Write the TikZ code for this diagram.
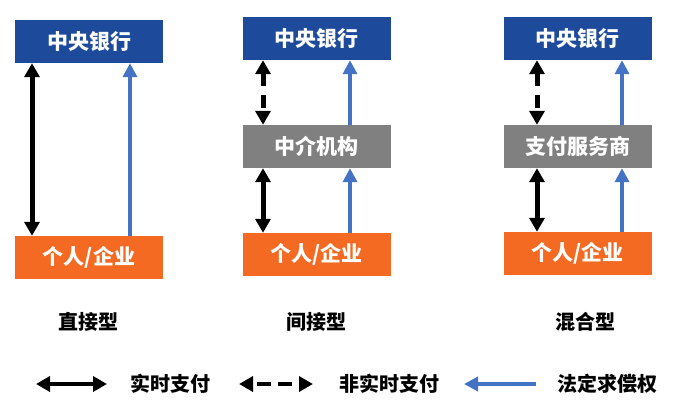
\documentclass[tikz,border=0pt]{standalone}
\usepackage{fontspec}
\newfontfamily\cjk{Noto Sans CJK SC}
\usepackage{xcolor}
\usetikzlibrary{arrows.meta,positioning}
\definecolor{bankblue}{RGB}{30,74,155}
\definecolor{midgray}{RGB}{128,128,128}
\definecolor{userorange}{RGB}{245,106,34}
\definecolor{claimblue}{RGB}{68,114,196}

\begin{document}
\begin{tikzpicture}[x=1pt,y=-1pt,
  box/.style={minimum width=148pt,minimum height=43pt,inner sep=0pt,text=white,
    font=\cjk\bfseries\fontsize{21}{21}\selectfont},
  tag/.style={font=\cjk\bfseries\fontsize{20}{20}\selectfont},
  realpay/.style={line width=5pt,{Triangle[length=14pt,width=15pt]}-{Triangle[length=14pt,width=15pt]}},
  nonrealpay/.style={realpay,dash pattern=on 13pt off 9pt},
  claim/.style={line width=4pt,claimblue,-{Triangle[length=14pt,width=14pt]}}]
\useasboundingbox (0,0) rectangle (683,408);
% direct
\node[box,fill=bankblue] (bankA) at (89,41.5) {中央银行};
\node[box,fill=userorange] (userA) at (89,257.5) {个人/企业};
\node[tag] (typeA) at (88,322) {直接型};
% indirect
\node[box,fill=bankblue] (bankB) at (316.5,38.5) {中央银行};
\node[box,fill=midgray] (midB) at (316.5,146.5) {中介机构};
\node[box,fill=userorange] (userB) at (316.5,254.5) {个人/企业};
\node[tag] (typeB) at (316,322) {间接型};
% hybrid
\node[box,fill=bankblue] (bankC) at (577.5,38.5) {中央银行};
\node[box,fill=midgray] (midC) at (577.5,146.5) {支付服务商};
\node[box,fill=userorange] (userC) at (577.5,253.5) {个人/企业};
\node[tag] (typeC) at (585,322) {混合型};
\path
([xshift=-57pt]bankA.south) edge[realpay] ([xshift=-57pt]userA.north)
([xshift=41pt]userA.north) edge[claim] ([xshift=41pt]bankA.south)
([xshift=-53.5pt]bankB.south) edge[nonrealpay] ([xshift=-53.5pt]midB.north)
([xshift=-53.5pt]midB.south) edge[realpay] ([xshift=-53.5pt]userB.north)
([xshift=33.5pt]midB.north) edge[claim] ([xshift=33.5pt]bankB.south)
([xshift=33.5pt]userB.north) edge[claim] ([xshift=33.5pt]midB.south)
([xshift=-40.5pt]bankC.south) edge[nonrealpay] ([xshift=-40.5pt]midC.north)
([xshift=-40.5pt]midC.south) edge[realpay] ([xshift=-40.5pt]userC.north)
([xshift=44.5pt]midC.north) edge[claim] ([xshift=44.5pt]bankC.south)
([xshift=44.5pt]userC.north) edge[claim] ([xshift=44.5pt]midC.south);
% legend
\node[tag,anchor=west] (realtxt) at (127,384) {实时支付};
\node[tag,anchor=west] (nonrealtxt) at (336,384) {非实时支付};
\node[tag,anchor=west] (claimtxt) at (554,384) {法定求偿权};
\coordinate (realL) at (36,384);
\coordinate (realR) at (107,384);
\coordinate (nonrealL) at (239,384);
\coordinate (nonrealR) at (313,384);
\coordinate (claimL) at (464,384);
\coordinate (claimR) at (536,384);
\path
(realL) edge[realpay,line width=4pt] (realR)
(nonrealL) edge[nonrealpay,line width=4pt,dash pattern=on 14pt off 7pt,dash phase=-5pt] (nonrealR)
(claimR) edge[claim] (claimL);
\end{tikzpicture}
\end{document}
